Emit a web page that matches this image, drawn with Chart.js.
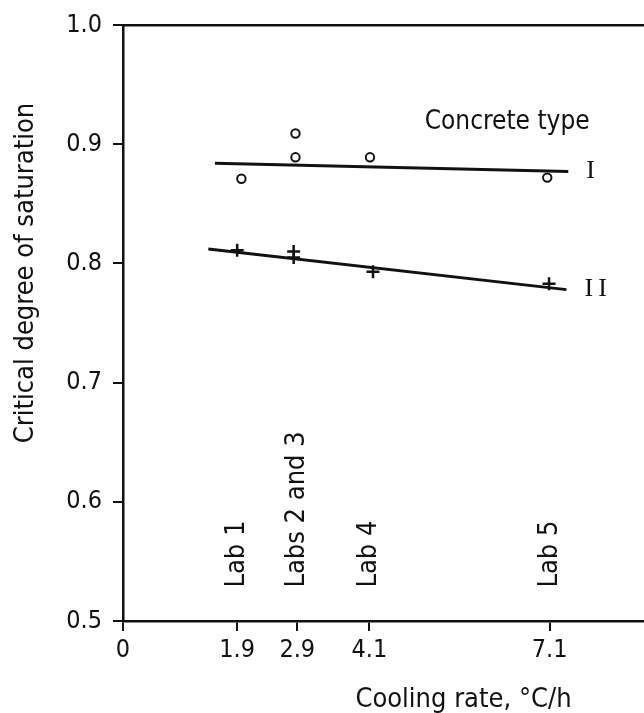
<!DOCTYPE html>
<html>
<head>
<meta charset="utf-8">
<script src="https://cdn.jsdelivr.net/npm/chart.js@4.4.1/dist/chart.umd.min.js"></script>
<style>
  html, body { margin: 0; padding: 0; background: #fff; }
  #wrap { width: 644px; height: 713px; position: relative; }
</style>
</head>
<body>
<div id="wrap"><canvas id="satChart"></canvas></div>
<script>
// cooling rate ticks (°C/h) and the labs written above them
const rateTicks = [0, 1.9, 2.9, 4.1, 7.1];
const labRates = [1.9, 2.9, 4.1, 7.1];
const labNames = ['Lab 1', 'Labs 2 and 3', 'Lab 4', 'Lab 5'];

const satTicks = [0.5, 0.6, 0.7, 0.8, 0.9, 1.0];

// concrete type I (circles)
const typeIRate = [1.97, 2.87, 2.87, 4.11, 7.06];
const typeISat = [0.871, 0.909, 0.889, 0.889, 0.872];

// concrete type II (crosses)
const typeIIRate = [1.90, 2.84, 2.84, 4.16, 7.09];
const typeIISat = [0.811, 0.810, 0.805, 0.793, 0.783];

// fitted lines
const fitIRate = [1.53, 7.41];
const fitISat = [0.884, 0.877];
const fitIIRate = [1.42, 7.38];
const fitIISat = [0.812, 0.778];

const typeNames = ['I', 'II'];

const FONT = "'DejaVu Sans Condensed', 'DejaVu Sans', sans-serif";
const INK = '#111';

function toPoints(xs, ys) {
    return xs.map((x, i) => ({ x: x, y: ys[i] }));
}

// no extra side padding, the frame runs to the right edge
function noSidePadding(s) {
    s.paddingLeft = 0;
    s.paddingRight = 0;
}

// text that is not part of the axes: lab names, type labels, axis titles
const textPlugin = {
    id: 'textPlugin',
    afterDatasetsDraw(chart) {
        const ctx = chart.ctx;
        const xs = chart.scales.x;
        const ys = chart.scales.y;
        const area = chart.chartArea;
        ctx.save();
        ctx.fillStyle = INK;

        // lab names, written upwards above each tick
        ctx.font = '27px ' + FONT;
        ctx.textAlign = 'left';
        ctx.textBaseline = 'middle';
        labRates.forEach((r, i) => {
            ctx.save();
            ctx.translate(xs.getPixelForValue(r), ys.getPixelForValue(0.528));
            ctx.rotate(-Math.PI / 2);
            ctx.fillText(labNames[i], 0, 0);
            ctx.restore();
        });

        // legend title
        ctx.font = '26px ' + FONT;
        ctx.fillText('Concrete type', xs.getPixelForValue(5.02), ys.getPixelForValue(0.9185));

        // I and II at the end of each line
        ctx.font = '26px "Liberation Serif", serif';
        ctx.letterSpacing = '5px';
        ctx.fillText(typeNames[0], xs.getPixelForValue(fitIRate[1]) + 18, ys.getPixelForValue(fitISat[1]));
        ctx.fillText(typeNames[1], xs.getPixelForValue(fitIIRate[1]) + 18, ys.getPixelForValue(fitIISat[1]));
        ctx.letterSpacing = '0px';

        // axis titles
        ctx.font = '27px ' + FONT;
        ctx.textAlign = 'center';
        ctx.fillText('Cooling rate, °C/h', (area.left + area.right) / 2 + 80, area.bottom + 79);

        ctx.save();
        ctx.translate(area.left - 97, (area.top + area.bottom) / 2 - 50);
        ctx.rotate(-Math.PI / 2);
        ctx.fillText('Critical degree of saturation', 0, 0);
        ctx.restore();

        ctx.restore();
    }
};

const ctx = document.getElementById('satChart').getContext('2d');
new Chart(ctx, {
    type: 'scatter',
    data: {
        datasets: [
            {
                label: 'Type I',
                data: toPoints(typeIRate, typeISat),
                pointStyle: 'circle',
                pointRadius: 4.2,
                pointBorderWidth: 2,
                borderColor: INK,
                backgroundColor: '#fff'
            },
            {
                label: 'Type II',
                data: toPoints(typeIIRate, typeIISat),
                pointStyle: 'cross',
                pointRadius: 6.5,
                pointBorderWidth: 2.5,
                borderColor: INK,
                backgroundColor: INK
            },
            {
                label: 'Fit I',
                data: toPoints(fitIRate, fitISat),
                showLine: true,
                pointRadius: 0,
                borderWidth: 3,
                borderColor: INK
            },
            {
                label: 'Fit II',
                data: toPoints(fitIIRate, fitIISat),
                showLine: true,
                pointRadius: 0,
                borderWidth: 3,
                borderColor: INK
            }
        ]
    },
    options: {
        responsive: true,
        maintainAspectRatio: false,
        animation: false,
        devicePixelRatio: 1,
        layout: { autoPadding: false, padding: { top: 25, right: 0, bottom: 0, left: 0 } },
        plugins: {
            legend: { display: false },
            tooltip: { enabled: false }
        },
        scales: {
            x: {
                type: 'linear',
                position: 'bottom',
                min: 0,
                max: 8.67,
                afterBuildTicks: s => { s.ticks = rateTicks.map(v => ({ value: v })); },
                afterFit: s => { s.height = 92; noSidePadding(s); },
                ticks: {
                    color: INK,
                    font: { family: FONT, size: 25 },
                    padding: 4,
                    autoSkip: false,
                    maxRotation: 0,
                    callback: v => (v === 0 ? '0' : v.toFixed(1))
                },
                grid: { drawOnChartArea: false, drawTicks: true, tickLength: 10, color: INK, lineWidth: 2 },
                border: { display: true, color: INK, width: 2.5 }
            },
            xTop: {
                type: 'linear',
                position: 'top',
                min: 0,
                max: 8.67,
                afterFit: s => { s.height = 0; noSidePadding(s); },
                ticks: { display: false },
                grid: { display: false },
                border: { display: true, color: INK, width: 2.5 }
            },
            y: {
                type: 'linear',
                min: 0.5,
                max: 1.0,
                afterBuildTicks: s => { s.ticks = satTicks.map(v => ({ value: v })); },
                afterFit: s => { s.width = 123; s.paddingTop = 0; s.paddingBottom = 0; },
                ticks: {
                    color: INK,
                    font: { family: FONT, size: 25 },
                    padding: 11,
                    callback: v => v.toFixed(1)
                },
                grid: { drawOnChartArea: false, drawTicks: true, tickLength: 10, color: INK, lineWidth: 2 },
                border: { display: true, color: INK, width: 2.5 }
            }
        }
    },
    plugins: [textPlugin]
});
</script>
</body>
</html>
